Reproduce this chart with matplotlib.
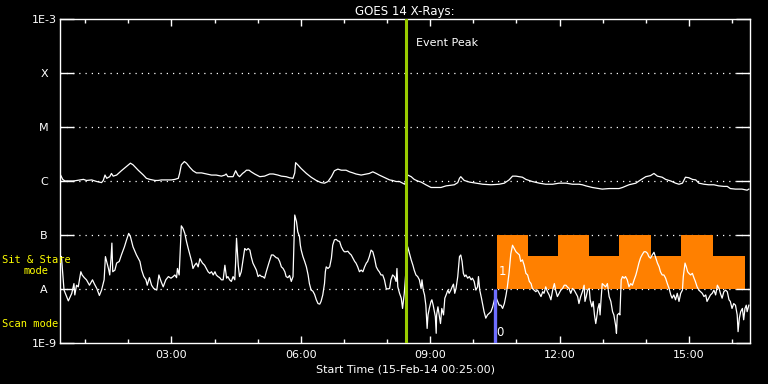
import numpy as np
import matplotlib
matplotlib.use("Agg")
import matplotlib.pyplot as plt
import matplotlib.transforms as mtransforms
from matplotlib.ticker import FixedLocator, FuncFormatter

# time axis in hours of 15-Feb-2014, start 00:25
t_start = 25 / 60
t_end = t_start + 16

# GOES 14 long channel (1-8 A), log10 flux in W/m^2
long_t = [0.43, 0.48, 0.53, 0.73, 0.88, 0.96, 1.03, 1.15, 1.27, 1.38, 1.42, 1.46, 1.50, 1.57, 1.61,
          1.65, 1.73, 1.84, 1.96, 2.05, 2.11, 2.23, 2.35, 2.42, 2.50, 2.62, 2.69, 2.77, 2.89, 3.00,
          3.08, 3.16, 3.19, 3.23, 3.30, 3.35, 3.43, 3.50, 3.58, 3.70, 3.81, 3.93, 4.04, 4.16, 4.24,
          4.27, 4.31, 4.43, 4.49, 4.54, 4.58, 4.65, 4.70, 4.74, 4.80, 4.85, 4.93, 5.05, 5.16, 5.28,
          5.36, 5.47, 5.55, 5.66, 5.74, 5.82, 5.86, 5.88, 5.93, 6.01, 6.13, 6.24, 6.36, 6.47, 6.55,
          6.63, 6.71, 6.78, 6.86, 6.94, 7.05, 7.13, 7.21, 7.28, 7.40, 7.52, 7.59, 7.67, 7.75, 7.82,
          7.90, 7.98, 8.06, 8.13, 8.21, 8.29, 8.36, 8.41, 8.48, 8.56, 8.63, 8.71, 8.79, 8.90, 9.02,
          9.14, 9.25, 9.37, 9.56, 9.64, 9.68, 9.71, 9.79, 9.91, 10.06, 10.22, 10.41, 10.60, 10.72,
          10.83, 10.91, 10.99, 11.06, 11.14, 11.22, 11.37, 11.53, 11.68, 11.84, 11.99, 12.15, 12.30,
          12.45, 12.53, 12.61, 12.76, 12.92, 12.99, 13.15, 13.30, 13.38, 13.46, 13.61, 13.77, 13.88,
          14.00, 14.11, 14.19, 14.27, 14.38, 14.46, 14.58, 14.69, 14.77, 14.85, 14.92, 15.00, 15.08,
          15.16, 15.23, 15.35, 15.46, 15.58, 15.69, 15.81, 15.89, 15.96, 16.08, 16.23, 16.35, 16.39]
long_log = [-5.89, -5.97, -6.00, -6.00, -5.98, -5.97, -5.99, -5.98, -6.01, -6.03, -5.99, -5.89, -5.95,
            -5.92, -5.86, -5.91, -5.89, -5.81, -5.73, -5.67, -5.70, -5.80, -5.89, -5.95, -5.97, -5.99,
            -5.99, -5.98, -5.98, -5.98, -5.97, -5.95, -5.86, -5.70, -5.64, -5.67, -5.75, -5.81, -5.85,
            -5.85, -5.87, -5.89, -5.89, -5.91, -5.89, -5.87, -5.92, -5.92, -5.81, -5.89, -5.92, -5.86,
            -5.83, -5.80, -5.80, -5.83, -5.87, -5.92, -5.91, -5.87, -5.87, -5.89, -5.91, -5.92, -5.94,
            -5.95, -5.85, -5.66, -5.70, -5.77, -5.86, -5.93, -5.99, -6.03, -6.04, -6.01, -5.92, -5.81,
            -5.78, -5.80, -5.80, -5.83, -5.85, -5.87, -5.89, -5.87, -5.86, -5.83, -5.86, -5.89, -5.92,
            -5.95, -5.98, -5.99, -6.01, -6.01, -6.04, -6.06, -5.89, -5.92, -5.97, -6.00, -6.02, -6.07,
            -6.12, -6.12, -6.12, -6.09, -6.07, -6.03, -5.95, -5.92, -5.99, -6.02, -6.04, -6.06, -6.07,
            -6.06, -6.04, -5.98, -5.91, -5.91, -5.92, -5.93, -5.97, -6.01, -6.04, -6.06, -6.06, -6.04,
            -6.04, -6.06, -6.06, -6.07, -6.09, -6.12, -6.14, -6.15, -6.14, -6.14, -6.14, -6.12, -6.07,
            -6.04, -5.98, -5.92, -5.90, -5.86, -5.91, -5.93, -5.97, -6.00, -6.04, -6.06, -6.04, -5.93,
            -5.94, -5.97, -5.98, -6.04, -6.06, -6.07, -6.07, -6.09, -6.10, -6.10, -6.14, -6.15, -6.15,
            -6.17, -6.15]

# GOES 14 short channel (0.5-4 A), log10 flux in W/m^2
short_t = [0.45, 0.51, 0.61, 0.69, 0.74, 0.76, 0.80, 0.84, 0.90, 0.93, 0.98, 1.03, 1.10, 1.17, 1.21,
           1.27, 1.33, 1.38, 1.44, 1.47, 1.54, 1.57, 1.60, 1.62, 1.64, 1.69, 1.73, 1.79, 1.84, 1.91,
           1.96, 2.01, 2.05, 2.11, 2.19, 2.27, 2.31, 2.36, 2.41, 2.44, 2.49, 2.54, 2.59, 2.66, 2.71,
           2.76, 2.81, 2.87, 2.93, 2.99, 3.04, 3.08, 3.12, 3.14, 3.18, 3.20, 3.23, 3.27, 3.31, 3.35,
           3.39, 3.43, 3.47, 3.50, 3.54, 3.58, 3.62, 3.66, 3.72, 3.77, 3.81, 3.85, 3.89, 3.93, 3.97,
           4.01, 4.04, 4.08, 4.12, 4.16, 4.20, 4.24, 4.28, 4.31, 4.35, 4.39, 4.43, 4.47, 4.49, 4.51,
           4.55, 4.58, 4.62, 4.66, 4.70, 4.74, 4.78, 4.82, 4.85, 4.89, 4.97, 5.01, 5.05, 5.09, 5.12,
           5.16, 5.20, 5.26, 5.32, 5.36, 5.43, 5.47, 5.51, 5.55, 5.59, 5.63, 5.66, 5.70,
           5.74, 5.78, 5.82, 5.86, 5.90, 5.93, 5.97, 5.99, 6.01, 6.05, 6.09, 6.13, 6.17, 6.20, 6.24,
           6.28, 6.32, 6.36, 6.40, 6.44, 6.47, 6.51, 6.55, 6.57, 6.59, 6.63, 6.67, 6.71, 6.74, 6.78,
           6.82, 6.86, 6.90, 6.94, 6.98, 7.01, 7.05, 7.09, 7.13, 7.17, 7.21, 7.25, 7.28, 7.32, 7.36,
           7.40, 7.44, 7.48, 7.52, 7.55, 7.59, 7.63, 7.67, 7.71, 7.75, 7.79, 7.82, 7.86, 7.90, 7.94,
           7.98, 8.02, 8.06, 8.09, 8.13, 8.17, 8.21, 8.23, 8.25, 8.29, 8.33, 8.36, 8.40, 8.48, 8.52,
           8.56, 8.60, 8.63, 8.67, 8.71, 8.75, 8.79, 8.81, 8.84, 8.87, 8.90, 8.93, 8.95, 8.98, 9.02,
           9.04, 9.07, 9.10, 9.12, 9.14, 9.15, 9.18, 9.21, 9.24, 9.27, 9.31, 9.34, 9.37, 9.41, 9.44,
           9.48, 9.51, 9.54, 9.57, 9.60, 9.64, 9.68, 9.71, 9.74, 9.77, 9.80, 9.83, 9.87, 9.91, 9.95,
           9.98, 10.02, 10.06, 10.10, 10.12, 10.15, 10.19, 10.22, 10.25, 10.29, 10.33, 10.37, 10.41,
           10.45, 10.49, 10.52, 10.60, 10.64, 10.68, 10.72, 10.76, 10.79, 10.83, 10.87, 10.91, 10.95,
           10.99, 11.03, 11.07, 11.10, 11.14, 11.18, 11.22, 11.26, 11.30, 11.34, 11.37, 11.41, 11.45,
           11.49, 11.53, 11.57, 11.61, 11.64, 11.68, 11.72, 11.76, 11.80, 11.84, 11.88, 11.91, 11.95,
           11.99, 12.03, 12.07, 12.11, 12.15, 12.18, 12.22, 12.26, 12.30, 12.34, 12.38, 12.42, 12.45,
           12.49, 12.53, 12.57, 12.59, 12.62, 12.65, 12.69, 12.71, 12.75, 12.78, 12.81, 12.84, 12.86,
           12.89, 12.92, 12.94, 12.96, 12.99, 13.03, 13.07, 13.11, 13.15, 13.19, 13.23, 13.26, 13.30,
           13.32, 13.34, 13.38, 13.40, 13.43, 13.46, 13.50, 13.53, 13.57, 13.61, 13.65, 13.69, 13.73,
           13.77, 13.80, 13.84, 13.88, 13.92, 13.96, 14.00, 14.04, 14.07, 14.11, 14.15, 14.19, 14.23,
           14.27, 14.31, 14.34, 14.38, 14.42, 14.46, 14.50, 14.54, 14.58, 14.61, 14.65, 14.69, 14.73,
           14.77, 14.81, 14.85, 14.87, 14.91, 14.94, 14.97, 15.00, 15.04, 15.08, 15.12, 15.15, 15.19,
           15.23, 15.27, 15.31, 15.35, 15.39, 15.42, 15.46, 15.50, 15.54, 15.58, 15.62, 15.66, 15.70,
           15.73, 15.77, 15.81, 15.85, 15.89, 15.93, 15.96, 16.00, 16.04, 16.08, 16.12, 16.14, 16.17,
           16.20, 16.24, 16.27, 16.30, 16.33, 16.35, 16.39]
short_log = [-7.40, -8.02, -8.22, -8.08, -7.90, -8.11, -7.93, -7.96, -7.68, -7.74, -7.79, -7.83, -7.93,
             -7.83, -7.90, -7.99, -8.12, -8.02, -7.83, -7.40, -7.62, -7.74, -7.43, -7.15, -7.68, -7.65,
             -7.52, -7.49, -7.37, -7.22, -7.09, -6.97, -7.03, -7.22, -7.37, -7.49, -7.65, -7.77, -7.83,
             -7.93, -7.79, -7.93, -7.99, -8.02, -7.74, -7.86, -7.96, -7.83, -7.77, -7.80, -7.77, -7.74,
             -7.79, -7.62, -7.74, -7.37, -6.83, -6.88, -6.97, -7.12, -7.25, -7.37, -7.49, -7.62, -7.56,
             -7.52, -7.59, -7.44, -7.52, -7.56, -7.62, -7.68, -7.71, -7.68, -7.74, -7.68, -7.74, -7.77,
             -7.79, -7.83, -7.83, -7.56, -7.80, -7.77, -7.83, -7.86, -7.77, -7.83, -7.49, -7.06, -7.56,
             -7.77, -7.68, -7.46, -7.25, -7.28, -7.25, -7.28, -7.40, -7.52, -7.65, -7.77, -7.74, -7.77,
             -7.77, -7.80, -7.68, -7.52, -7.37, -7.37, -7.42, -7.43, -7.49, -7.59, -7.62, -7.68, -7.77,
             -7.79,
             -7.75, -7.86, -7.77, -6.63, -6.75, -6.94, -7.03, -7.19, -7.28, -7.40, -7.49, -7.59, -7.74,
             -7.90, -8.02, -8.04, -8.10, -8.20, -8.27, -8.28, -8.23, -8.11, -7.90, -7.68, -7.59, -7.62,
             -7.59, -7.43, -7.19, -7.09, -7.08, -7.11, -7.12, -7.22, -7.28, -7.31, -7.31, -7.30, -7.34,
             -7.37, -7.43, -7.49, -7.52, -7.59, -7.68, -7.65, -7.68, -7.59, -7.52, -7.49, -7.40, -7.28,
             -7.31, -7.43, -7.59, -7.65, -7.68, -7.74, -7.74, -7.83, -7.99, -8.00, -7.99, -7.83, -7.74,
             -7.77, -7.86, -7.62, -7.96, -8.08, -8.17, -8.36, -8.08, -7.22, -7.34, -7.46, -7.56, -7.65,
             -7.74, -7.77, -7.83, -7.99, -7.83, -8.02, -8.11, -8.30, -8.73, -8.48, -8.36, -8.23, -8.20,
             -8.30, -8.42, -8.51, -8.82, -8.48, -8.33, -8.48, -8.64, -8.36, -8.48, -8.17, -8.11, -8.02,
             -8.08, -8.02, -7.96, -7.91, -8.08, -7.99, -7.77, -7.40, -7.37, -7.49, -7.71, -7.77, -7.74,
             -7.80, -7.77, -7.83, -7.80, -7.86, -8.02, -7.96, -7.77, -8.02, -8.17, -8.30, -8.42, -8.54,
             -8.48, -8.45, -8.42, -8.33, -8.20, -8.14, -8.30, -8.30, -8.36, -8.27, -8.11, -7.96, -7.70,
             -7.35, -7.19, -7.25,
             -7.31, -7.34, -7.37, -7.49, -7.46, -7.56, -7.71, -7.74, -7.86, -7.90, -7.99, -8.02, -8.05,
             -8.02, -8.08, -8.14, -8.05, -8.08, -7.96, -8.05, -8.11, -8.20, -8.02, -7.90, -8.02, -8.14,
             -8.08, -8.02, -7.99, -7.93, -7.93, -7.96, -7.99, -8.08, -7.99, -8.02, -8.08, -8.14, -8.27,
             -8.14, -8.05, -7.93, -8.23, -8.14, -8.02, -7.99, -8.20, -8.33, -8.23, -8.48, -8.64, -8.54,
             -8.36, -8.27, -8.48, -8.23, -7.90, -7.93, -7.96, -7.90, -8.14, -8.23, -8.42, -8.48, -8.67,
             -8.82, -8.48, -8.45, -8.48, -7.83, -7.77, -7.80, -7.77, -7.83, -7.96, -7.90, -7.93, -7.83,
             -7.74, -7.65, -7.52, -7.42, -7.36, -7.31, -7.31, -7.34, -7.40, -7.43, -7.37, -7.32, -7.42,
             -7.52, -7.59, -7.68, -7.74, -7.74, -7.80, -7.90, -7.99, -8.11, -8.17, -8.11, -8.20, -8.08,
             -8.23, -8.08, -8.02, -7.77, -7.52, -7.59, -7.68, -7.71, -7.74, -7.71, -7.80, -7.86, -7.96,
             -8.02, -8.05, -8.08, -8.14, -8.11, -8.23, -8.17, -8.11, -8.08, -8.02, -8.11, -7.93, -7.99,
             -8.08, -8.17, -8.05, -8.02, -8.05, -8.20, -8.23, -8.36, -8.27, -8.30, -8.48, -8.79, -8.54,
             -8.42, -8.36, -8.57, -8.36, -8.30, -8.42, -8.30]

# observing mode (orange blocks): edges in hours, top level as log10 flux
mode_edges = [10.55, 11.27, 11.96, 12.69, 13.39, 14.13, 14.82, 15.56, 16.29]
mode_tops = [-7.0, -7.39, -7.0, -7.39, -7.0, -7.39, -7.0, -7.39]
scan_time = 10.51      # blue marker (scan mode)
event_peak = 8.45      # green line

goes_levels = [-9, -8, -7, -6, -5, -4, -3]
goes_labels = ['1E-9', 'A', 'B', 'C', 'M', 'X', '1E-3']

plt.rcParams['font.family'] = 'DejaVu Sans'
fig = plt.figure(figsize=(7.68, 3.84), dpi=100, facecolor='black')
ax = fig.add_axes([60 / 768, 41 / 384, 690 / 768, 324 / 384])
ax.set_facecolor('black')
ax.set_yscale('log')
ax.set_xlim(t_start, t_end)
ax.set_ylim(1e-9, 1e-3)

# dotted class lines
for lv in goes_levels[1:-1]:
    ax.axhline(10.0 ** lv, color='white', lw=0.9, ls=(0, (1, 4)), zorder=0.5)

ax.stairs(10.0 ** np.array(mode_tops), mode_edges, baseline=1e-8, fill=True,
          color='#ff8000', zorder=1)

ax.plot(long_t, 10.0 ** np.array(long_log), color='white', lw=0.9, zorder=3)
ax.plot(short_t, 10.0 ** np.array(short_log), color='white', lw=0.9, zorder=3)

ax.axvline(event_peak, color='#99cc00', lw=2.2, zorder=4)
ax.plot([scan_time, scan_time], [1e-9, 1e-8], color='#6e6eff', lw=2.4, zorder=4,
        solid_capstyle='butt')

ax.annotate('Event Peak', (event_peak, 10.0 ** -3.44), xytext=(7, 0), textcoords='offset points',
            color='white', fontsize=8, va='center', ha='left')
ax.annotate('1', (mode_edges[0], 10.0 ** -7.67), xytext=(1.5, 0), textcoords='offset points',
            color='white', fontsize=8.5, va='center', ha='left', zorder=5)
ax.annotate('0', (scan_time, 10.0 ** -8.81), xytext=(1, 0), textcoords='offset points',
            color='white', fontsize=8.5, va='center', ha='left', zorder=5)

# mode labels left of the axes
trans = mtransforms.blended_transform_factory(fig.transFigure, ax.transData)
ax.text(2 / 768, 10.0 ** -7.56, 'Sit & Stare\nmode', transform=trans, color='yellow',
        family='DejaVu Sans Mono', fontsize=7.5, ha='left', va='center', multialignment='center',
        linespacing=1.1)
ax.text(2 / 768, 10.0 ** -8.65, 'Scan mode', transform=trans, color='yellow',
        family='DejaVu Sans Mono', fontsize=7.5, ha='left', va='center')

# axes styling
for sp in ax.spines.values():
    sp.set_color('white')
    sp.set_linewidth(1)

ax.yaxis.set_major_locator(FixedLocator([10.0 ** v for v in goes_levels]))
ax.yaxis.set_minor_locator(FixedLocator([]))
ax.set_yticklabels(goes_labels)
for lab in ax.get_yticklabels():
    lab.set_horizontalalignment('center')
ax.tick_params(axis='y', which='major', direction='in', length=10, width=1, color='white',
               labelcolor='white', labelsize=8, pad=11.5, left=True, right=True)

ax.xaxis.set_major_locator(FixedLocator([3, 6, 9, 12, 15]))
ax.xaxis.set_minor_locator(FixedLocator(list(range(1, 17))))
ax.xaxis.set_major_formatter(FuncFormatter(lambda v, p: '%02d:00' % int(round(v))))
ax.tick_params(axis='x', which='major', direction='in', length=5, width=1, color='white',
               labelcolor='white', labelsize=8, pad=5, top=True, bottom=True)
ax.tick_params(axis='x', which='minor', direction='in', length=3, width=1, color='white',
               top=True, bottom=True)

ax.set_title('GOES 14 X-Rays:', color='white', fontsize=8.5, pad=3)
ax.set_xlabel('Start Time (15-Feb-14 00:25:00)', color='white', fontsize=8, labelpad=3)

fig.savefig('out.png', dpi=100, facecolor='black')
